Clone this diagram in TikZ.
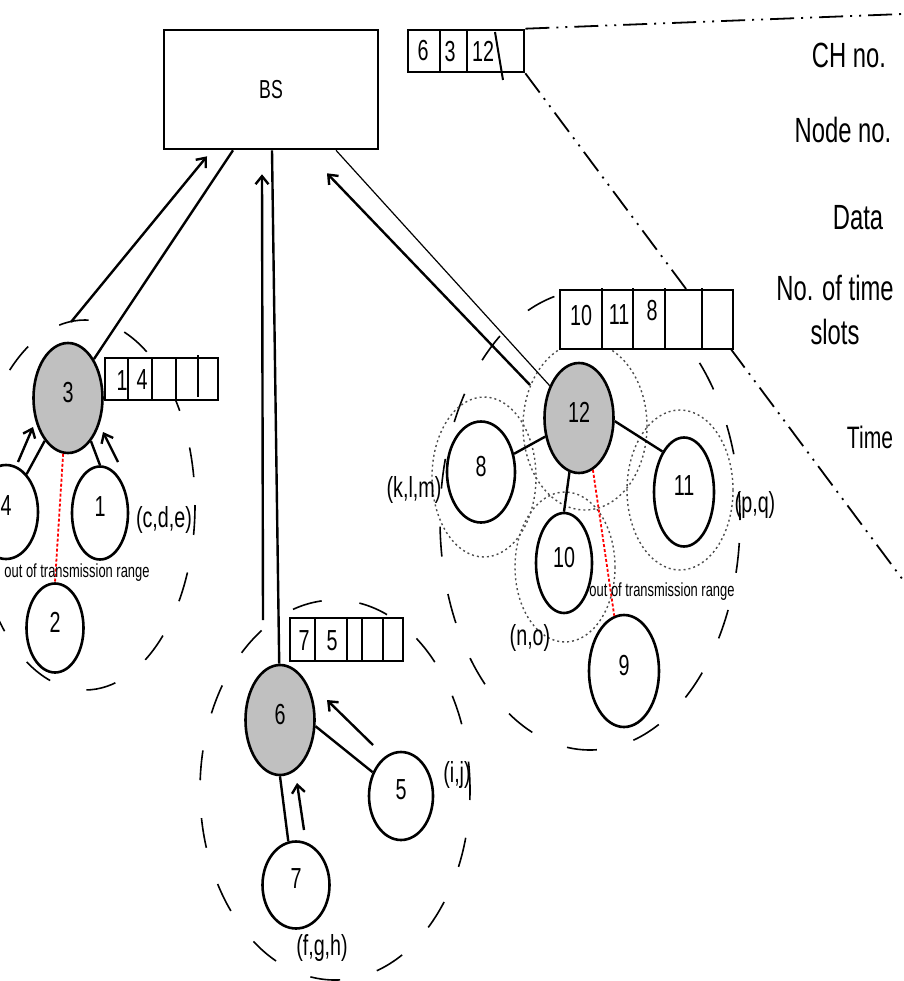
\documentclass[tikz,border=0pt]{standalone}
\usepackage{fontspec}
\setmainfont{Liberation Sans}[FakeStretch=0.68]
\usetikzlibrary{shapes.geometric,arrows.meta}
\definecolor{chgray}{RGB}{192,192,192}

\begin{document}
\begin{tikzpicture}[x=1pt,y=-1pt,
	ch/.style={ellipse,draw,line width=2.6pt,fill=chgray,inner sep=0pt,minimum width=69pt,minimum height=110pt,font=\fontsize{29}{30}\selectfont,text depth=12pt},
	sn/.style={ch,fill=white},
	slots/.style={draw,line width=2.6pt,fill=white,inner sep=0pt},
	num/.style={font=\fontsize{29}{30}\selectfont,inner sep=0pt},
	dat/.style={font=\fontsize{29}{30}\selectfont,inner sep=0pt},
	side/.style={font=\fontsize{35}{44}\selectfont,align=center,inner sep=0pt},
	oor/.style={font=\fontsize{19}{20}\selectfont,inner sep=0pt},
	link/.style={line width=2.4pt},
	up/.style={link,-{Straight Barb[length=8pt,width=13pt]}},
	rng/.style={line width=1.6pt,dash pattern=on 30pt off 38pt},
	tx/.style={line width=1.4pt,gray!60!black,dash pattern=on 2pt off 3pt},
	cut/.style={line width=1.8pt,red,dash pattern=on 3pt off 2pt},
	zoomln/.style={line width=1.8pt,dash pattern=on 24pt off 7pt on 2pt off 7pt on 2pt off 7pt}]
	\useasboundingbox (0,0) rectangle (903,981);
	% ranges of the clusters
	\draw[rng] (85,505) ellipse [x radius=110,y radius=185];
	\draw[rng,dash phase=20pt] (335,790) ellipse [x radius=135,y radius=190];
	\draw[rng,dash phase=45pt] (590,520) ellipse [x radius=150,y radius=230];
	\draw[tx] (585,426) ellipse [x radius=62,y radius=84];
	\draw[tx] (484,477) ellipse [x radius=52,y radius=80];
	\draw[tx] (565,567) ellipse [x radius=50,y radius=75];
	\draw[tx] (680,490) ellipse [x radius=53,y radius=80];
	% base station and its slots
	\node[draw,line width=2.6pt,minimum width=214pt,minimum height=119pt,font=\fontsize{26}{28}\selectfont] (bs) at (271,89.5) {BS};
	\node[slots,minimum width=116pt,minimum height=42pt] (qbs) at (466,51) {};
	\coordinate (zt) at (903,14);
	\coordinate (zb) at (903,580);
	\draw[zoomln] (qbs.north east) -- (zt);
	\draw[zoomln] (qbs.south east) -- (zb);
	\foreach \xx in {440,467} \draw[line width=2.4pt] (\xx,30) -- (\xx,72);
	\draw[line width=2pt] (495,32) -- (503,80);
	\node[num] at (423,51) {6};
	\node[num] at (450,52) {3};
	\node[num] at (483,51) {12};
	\node[side] (lch) at (849,55) {CH no.};
	\node[side] (lno) at (843,130) {Node no.};
	\node[side] (ldata) at (858,218) {Data};
	\node[side] (lslot) at (835,310) {No. of time\\slots};
	\node[side,font=\fontsize{31}{34}\selectfont] (ltime) at (870,437) {Time};
	% cluster heads
	\node[ch] (c3) at (68,398) {3};
	\node[ch] (c6) at (280,720) {6};
	\node[ch] (c12) at (579,418) {12};
	% members
	\node[sn,minimum width=64pt,minimum height=94pt] (n4) at (6,512) {4};
	\node[sn,minimum width=56pt,minimum height=93pt] (n1) at (100,513) {1};
	\node[sn,minimum width=57pt,minimum height=89pt] (n2) at (55,628) {2};
	\node[sn,minimum width=64pt,minimum height=88pt] (n5) at (401,796) {5};
	\node[sn,minimum width=67pt,minimum height=87pt] (n7) at (296,885) {7};
	\node[sn,minimum width=68pt,minimum height=101pt] (n8) at (481,472) {8};
	\node[sn,minimum width=60pt,minimum height=109pt] (n11) at (684,492) {11};
	\node[sn,minimum width=56pt,minimum height=100pt] (n10) at (564,563) {10};
	\node[sn,minimum width=70pt,minimum height=112pt] (n9) at (624,671) {9};
	% slots of the cluster heads
	\node[slots,minimum width=113pt,minimum height=42pt] (q3) at (161.5,379) {};
	\foreach \xx in {128,152,176} \draw[line width=2.4pt] (\xx,358) -- (\xx,400);
	\draw[line width=2.4pt] (198,355) -- (198,397);
	\node[num] at (122,381) {1};
	\node[num] at (142,380) {4};
	\node[slots,minimum width=113pt,minimum height=43pt] (q6) at (346.5,639.5) {};
	\foreach \xx in {315,347,362,383} \draw[line width=2.4pt] (\xx,618) -- (\xx,661);
	\node[num] at (304,641) {7};
	\node[num] at (332,641) {5};
	\node[slots,minimum width=173pt,minimum height=59pt] (q12) at (646.5,319.5) {};
	\foreach \xx in {602,633,665,702} \draw[line width=2.4pt] (\xx,288) -- (\xx,349);
	\node[num] at (581,316) {10};
	\node[num] at (619,315) {11};
	\node[num] at (652,311) {8};
	% links to BS
	\coordinate (a3) at (71,322);
	\coordinate (a6) at (263,620);
	\coordinate (a12) at (530,385);
	\draw[link] (c3) -- ([xshift=-38pt]bs.south);
	\draw[up] (a3) -- ([xshift=-64pt,yshift=-6pt]bs.south);
	\draw[link] (c6) -- ([xshift=1pt]bs.south);
	\draw[up] (a6) -- ([xshift=-9pt,yshift=-24pt]bs.south);
	\draw[line width=1.2pt] (c12) -- ([xshift=65pt]bs.south);
	\draw[up] (a12) -- ([xshift=56pt,yshift=-23pt]bs.south);
	% links inside the clusters
	\draw[link] (n4) -- (c3);
	\draw[link] (n1.north) -- (c3.-62);
	\draw[link] (c6.-10) -- (n5.140);
	\draw[link] (c6.south) -- (n7.100);
	\draw[link] (c12) -- (n8);
	\draw[link] (c12.-5) -- (n11.118);
	\draw[link] (c12.-100) -- (n10.north);
	\draw[cut] (c3.-95) -- (n2.north);
	\draw[cut] (c12.-75) -- (n9.100);
	\coordinate (b4) at (18,462);  \coordinate (e4) at (33,427);
	\coordinate (b1) at (118,462); \coordinate (e1) at (103,432);
	\coordinate (b5) at (373,745); \coordinate (e5) at (327,700);
	\coordinate (b7) at (304,830); \coordinate (e7) at (297,783);
	\draw[up] (b4) -- (e4);
	\draw[up] (b1) -- (e1);
	\draw[up] (b5) -- (e5);
	\draw[up] (b7) -- (e7);
	% data and labels
	\node[oor] (t3) at (77,573) {out of transmission range};
	\node[oor] (t12) at (662,592) {out of transmission range};
	\node[dat] (d1) at (164,520) {(c,d,e)};
	\node[dat] (d5) at (457,775) {(i,j)};
	\node[dat] (d7) at (322,948) {(f,g,h)};
	\node[dat] (d8) at (414,490) {(k,l,m)};
	\node[dat] (d10) at (530,638) {(n,o)};
	\node[dat] (d11) at (755,505) {(p,q)};
\end{tikzpicture}
\end{document}
